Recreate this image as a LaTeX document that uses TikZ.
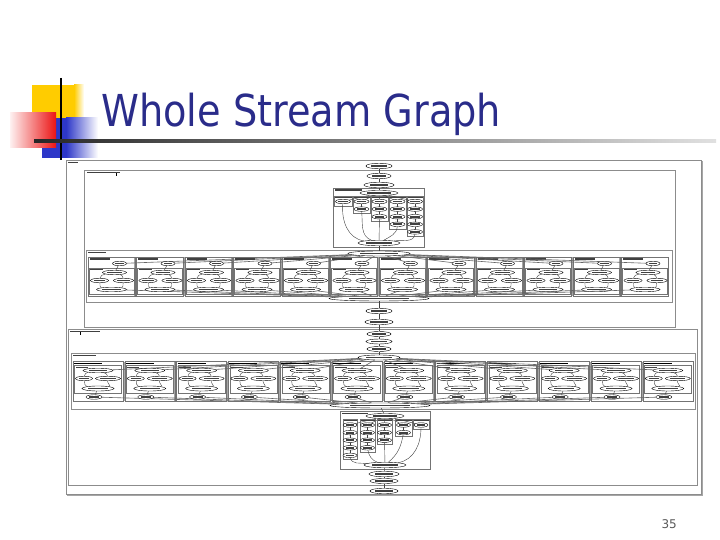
\documentclass[tikz,border=0pt]{standalone}
\usepackage{fontspec}
\setmainfont{DejaVu Sans}
\usetikzlibrary{shapes.geometric,calc}
\definecolor{titleblue}{RGB}{42,44,138}
\definecolor{gold}{RGB}{255,204,0}
\definecolor{deckblue}{RGB}{45,55,200}
\definecolor{deckred}{RGB}{235,20,20}
\tikzset{
 frm/.style={draw=black!45, line width=0.5pt},
 sub/.style={draw=black!55, line width=0.4pt},
 fn/.style={ellipse, draw=black, line width=0.4pt, fill=white, inner sep=0pt},
 txt/.style={fill=black!75},
 ed/.style={draw=black!75, line width=0.4pt},
 fan/.style={draw=black!60, line width=0.6pt},
 band/.style={draw=black!35, line width=2.6pt},
}
\newcommand\FN[6][]{%
  \node[fn,minimum width=#5pt,minimum height=#6pt,#1] (#2) at (#3,#4) {};
  \fill[txt] ($(#2.west)!0.2!(#2.east)+(0,-0.9)$) rectangle ($(#2.west)!0.8!(#2.east)+(0,0.9)$);
}
\begin{document}
\begin{tikzpicture}[x=1pt,y=-1pt]
\useasboundingbox (0,0) rectangle (720,540);
\fill[white] (0,0) rectangle (720,540);
% ---------- slide decoration ----------
\fill[gold] (32,85) rectangle (74,134);
\shade[left color=gold, right color=white] (74,85) rectangle (84,134);
\fill[deckblue] (42,118) rectangle (66,158);
\shade[left color=deckblue, right color=white] (66,118) rectangle (98,158);
\shade[left color=deckred!6, right color=deckred] (10,113) rectangle (56,148);
\draw[black, line width=2pt] (61,78) -- (61,160);
\shade[left color=black!85, right color=black!12] (34,140) rectangle (716,142.2);
\node[anchor=base west, text=titleblue, inner sep=0pt] (title) at (101,127)
  {\fontsize{44}{44}\selectfont\scalebox{0.87}[1]{Whole Stream Graph}};
\node[anchor=base east, text=black!65, inner sep=0pt, font=\fontsize{12}{12}\selectfont] (pg) at (677,528) {35};
% ---------- outer frame ----------
\draw[frm] (66,160) rectangle (701,494);
\draw[black!35, line width=1.3pt] (67,495.3) -- (702.2,495.3) -- (702.2,161);
\fill[txt] (68,162) rectangle (78,163);
\FN{n1}{379}{166}{26}{5.5}
% ---------- frame A ----------
\draw[frm] (84,170) rectangle (675,327);
\fill[txt] (87,172) rectangle (120,173.3);
\draw[black, line width=0.5pt] (116,173) -- (116,176);
\FN{n2}{379}{176}{24}{5.5}
\FN{n3}{379}{185}{30}{5.5}
% top splitjoin
\draw[sub] (333,188) rectangle (424,247);
\fill[txt] (335,189.5) rectangle (362,190.7);
\FN{s1}{379}{193}{38}{5}
\FN{j1}{379}{243}{42}{5.5}
\foreach \k/\xl/\xr in {0/334/352,1/353/370,2/371/388,3/389/406,4/407/423}{
  \pgfmathsetmacro\cx{(\xl+\xr)/2}
  \pgfmathsetmacro\bot{201.5+7.6*\k+4.5}
  \draw[sub] (\xl,196.5) rectangle (\xr,\bot);
  \fill[txt] (\xl+0.5,197) rectangle (\xr-0.5,198.3);
  \foreach \j in {0,...,\k}{\FN{c\k-\j}{\cx}{201.5+7.6*\j}{15}{4.5}}
  \ifnum\k>0
   \foreach \j [evaluate=\j as \pj using int(\j-1)] in {1,...,\k}{\draw[ed] (c\k-\pj) -- (c\k-\j);}
  \fi
  \draw[ed] (s1) -- (c\k-0);
}
\draw[ed] (c0-0) to[out=-95,in=172] (j1);
\draw[ed] (c1-1) to[out=-85,in=160] (j1);
\draw[ed] (c2-2) -- (j1);
\draw[ed] (c3-3) to[out=-95,in=30] (j1);
\draw[ed] (c4-4) to[out=-95,in=8] (j1);
\draw[ed] (n1) -- (n2); \draw[ed] (n2) -- (n3); \draw[ed] (n3) -- (s1);
% ---------- frame B : 12-way splitjoin ----------
\draw[frm] (86,250) rectangle (672,302);
\fill[txt] (88,251.5) rectangle (106,252.7);
\FN{s2}{379}{253.5}{62}{5}
\FN{j2}{379}{298.5}{100}{5}
\draw[ed] (j1) -- (s2);
\foreach \i in {1,...,11}{\draw[band] (88+48.5*\i-0.75,257) -- ++(0,39);}
\foreach \i in {0,...,11}{
  \pgfmathsetmacro\xl{88+48.5*\i}
  \pgfmathsetmacro\c{\xl+23.5}
  \draw[sub] (\xl,257) rectangle ++(47,39);
  \fill[txt] (\xl+1.5,258.3) rectangle ++(20,1.2);
  \draw[sub] (\xl+1,268) rectangle ++(45,26.5);
  \fill[txt] (\xl+2,269) rectangle ++(13,0.9);
  \FN{bt\i}{\c+8}{263.5}{14}{4.5}
  \FN{ba\i}{\c+3}{272.5}{24}{4.5}
  \FN{bl\i}{\c-12}{280.5}{18}{4.5}
  \FN{br\i}{\c+12}{280.5}{20}{4.5}
  \FN{bb\i}{\c}{289.5}{30}{4.5}
  \draw[ed] (bt\i) -- (ba\i);
  \draw[ed] (ba\i) to[out=190,in=80] (bl\i);
  \draw[ed] (ba\i) to[out=-20,in=100] (br\i);
  \draw[ed] (bl\i) to[out=-80,in=170] (bb\i);
  \draw[ed] (br\i) to[out=-100,in=10] (bb\i);
  \draw[fan] (s2) -- (bt\i);
  \draw[fan] (bb\i) -- (j2);
}
\FN{n4}{379}{311}{26}{5.5}
\FN{n5}{379}{322}{28}{5.5}
\draw[ed] (j2) -- (n4); \draw[ed] (n4) -- (n5);
% ---------- frame C ----------
\draw[frm] (68,329) rectangle (697,485);
\fill[txt] (70,330.5) rectangle (100,331.7);
\draw[black, line width=0.5pt] (80,331.5) -- (80,335);
\FN{n6}{379}{334}{24}{5}
\FN{n7}{379}{341.5}{26}{5}
\FN{n8}{379}{349}{24}{5}
\draw[ed] (n5) -- (n6); \draw[ed] (n6) -- (n7); \draw[ed] (n7) -- (n8);
% ---------- frame D : 12-way splitjoin ----------
\draw[frm] (71,353) rectangle (695,409.5);
\fill[txt] (73,354.5) rectangle (96,355.7);
\FN{s3}{379}{357.5}{42}{5}
\FN{j3}{380}{405.5}{100}{5}
\draw[ed] (n8) -- (s3);
\foreach \i in {1,...,11}{\draw[band] (73+51.8*\i-0.9,361.5) -- ++(0,39.5);}
\foreach \i in {0,...,11}{
  \pgfmathsetmacro\xl{73+51.8*\i}
  \pgfmathsetmacro\c{\xl+25}
  \draw[sub] (\xl,361.5) rectangle ++(50,39.5);
  \draw[black, line width=0.8pt] (\xl+1,363) -- ++(28,0);
  \draw[sub] (\xl+1.5,365.5) rectangle ++(47,27.5);
  \fill[txt] (\xl+2.5,366.5) rectangle ++(12,0.9);
  \FN{da\i}{\c}{370.5}{30}{4.5}
  \FN{dl\i}{\c-14}{378.5}{17}{4.5}
  \FN{dr\i}{\c+10}{378.5}{25}{4.5}
  \FN{db\i}{\c}{388.5}{32}{5}
  \FN{de\i}{\c-4}{397}{16}{4.5}
  \draw[ed] (da\i) to[out=190,in=80] (dl\i);
  \draw[ed] (da\i) to[out=-20,in=100] (dr\i);
  \draw[ed] (dl\i) to[out=-80,in=170] (db\i);
  \draw[ed] (dr\i) to[out=-100,in=10] (db\i);
  \draw[ed] (db\i) -- (de\i);
  \draw[fan] (s3) -- (da\i);
  \draw[fan] (de\i) -- (j3);
}
% bottom splitjoin
\draw[sub] (340,411) rectangle (430,469);
\fill[txt] (342,412.5) rectangle (368,413.7);
\FN{s4}{385}{416}{38}{5}
\FN{j4}{385}{465}{42}{5.5}
\draw[ed] (j3) -- (s4);
\foreach \k/\xl/\xr in {0/343/357,1/360/375,2/377/392,3/395/412,4/413/429}{
  \pgfmathsetmacro\cx{(\xl+\xr)/2}
  \pgfmathtruncatemacro\m{4-\k}
  \pgfmathsetmacro\bot{424.5+7.6*\m+4.5}
  \draw[sub] (\xl,419.5) rectangle (\xr,\bot);
  \fill[txt] (\xl+0.5,420) rectangle (\xr-0.5,421.2);
  \foreach \j in {0,...,\m}{\FN{e\k-\j}{\cx}{425+7.6*\j}{14}{4.5}}
  \ifnum\m>0
   \foreach \j [evaluate=\j as \pj using int(\j-1)] in {1,...,\m}{\draw[ed] (e\k-\pj) -- (e\k-\j);}
  \fi
  \draw[ed] (s4) -- (e\k-0);
}
\draw[ed] (e0-4) to[out=-80,in=175] (j4);
\draw[ed] (e1-3) to[out=-80,in=160] (j4);
\draw[ed] (e2-2) -- (j4);
\draw[ed] (e3-1) to[out=-100,in=40] (j4);
\draw[ed] (e4-0) to[out=-90,in=10] (j4);
\FN{n9}{384}{474}{30}{5.5}
\FN{n10}{384}{481}{28}{5}
\FN{n11}{384}{491}{28}{5.5}
\draw[ed] (j4) -- (n9); \draw[ed] (n9) -- (n10); \draw[ed] (n10) -- (n11);
\end{tikzpicture}
\end{document}
